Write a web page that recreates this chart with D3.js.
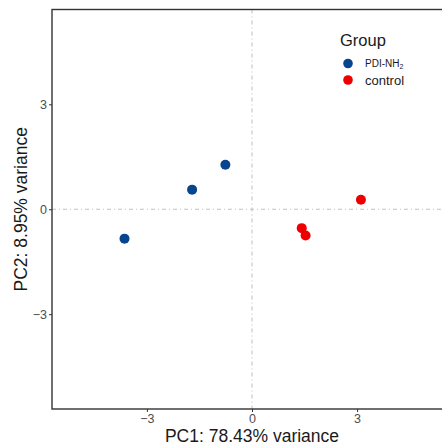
<!DOCTYPE html>
<html>
<head>
<meta charset="utf-8">
<script src="https://cdn.jsdelivr.net/npm/d3@7"></script>
<style>
  html, body { margin: 0; padding: 0; background: #fff; }
  svg text { font-family: "Liberation Sans", Arial, sans-serif; }
</style>
</head>
<body>
<svg id="chart" width="442" height="446"></svg>
<script>
// PCA scores per sample
const groups = ["PDI-NH2", "control"];
const groupColors = ["#08458f", "#ee0000"];
const pc1 = [-3.64, -1.71, -0.76, 1.42, 1.53, 3.11];
const pc2 = [-0.84, 0.56, 1.27, -0.54, -0.75, 0.27];
const sampleGroup = ["PDI-NH2", "PDI-NH2", "PDI-NH2", "control", "control", "control"];
const tickValues = [-3, 0, 3];
const xTitle = "PC1: 78.43% variance";
const yTitle = "PC2: 8.95% variance";

const svg = d3.select("#chart");
const margin = { left: 52, top: 9.5, bottom: 37 };
const W = 442, H = 446;
const panelW = 400; // panel extends beyond the right edge of the window
const x = d3.scaleLinear().domain([-5.71, 5.71]).range([margin.left, margin.left + panelW]);
const y = d3.scaleLinear().domain([-5.71, 5.71]).range([H - margin.bottom, margin.top]);
const color = d3.scaleOrdinal().domain(groups).range(groupColors);

// reference lines through the origin
const refStyle = g => g.attr("stroke", "#c4c4c4").attr("stroke-width", 1.1).attr("stroke-dasharray", "4,3,1,3");
svg.append("line").attr("x1", x(0)).attr("x2", x(0)).attr("y1", y.range()[1]).attr("y2", y.range()[0]).call(refStyle);
svg.append("line").attr("x1", x.range()[0]).attr("x2", x.range()[1]).attr("y1", y(0)).attr("y2", y(0)).call(refStyle);

// points
const data = pc1.map((v, i) => ({ pc1: v, pc2: pc2[i], group: sampleGroup[i] }));
svg.append("g").selectAll("circle").data(data).join("circle")
  .attr("cx", d => x(d.pc1)).attr("cy", d => y(d.pc2)).attr("r", 5)
  .attr("fill", d => color(d.group));

// axes
const fmt = d => d < 0 ? "\u2212" + Math.abs(d) : d;
const xAxis = svg.append("g").attr("transform", `translate(0,${y.range()[0]})`)
  .call(d3.axisBottom(x).tickValues(tickValues).tickSize(3).tickPadding(2).tickFormat(fmt));
const yAxis = svg.append("g").attr("transform", `translate(${x.range()[0]},0)`)
  .call(d3.axisLeft(y).tickValues(tickValues).tickSize(3).tickPadding(2).tickFormat(fmt));
[xAxis, yAxis].forEach(a => {
  a.select(".domain").remove();
  a.selectAll(".tick line").attr("stroke", "#333").attr("stroke-width", 1);
  a.selectAll(".tick text").attr("fill", "#4d4d4d").attr("font-size", 12.5);
});

// panel border
svg.append("rect")
  .attr("x", x.range()[0]).attr("y", y.range()[1])
  .attr("width", panelW).attr("height", y.range()[0] - y.range()[1])
  .attr("fill", "none").attr("stroke", "#333").attr("stroke-width", 1.4);

// axis titles
svg.append("text").attr("x", x(0)).attr("y", 442).attr("text-anchor", "middle")
  .attr("font-size", 17.5).attr("fill", "#1a1a1a").text(xTitle);
svg.append("text").attr("transform", `translate(27,${y(0)}) rotate(-90)`).attr("text-anchor", "middle")
  .attr("font-size", 17.5).attr("fill", "#1a1a1a").text(yTitle);

// legend
const lg = svg.append("g").attr("transform", "translate(340,0)");
lg.append("text").attr("x", 0).attr("y", 46).attr("font-size", 16.5).attr("fill", "#1a1a1a").text("Group");
const labelSize = [10, 13];
groups.forEach((g, i) => {
  const cy = 63.5 + i * 16.5;
  lg.append("circle").attr("cx", 8).attr("cy", cy).attr("r", 4.8).attr("fill", color(g));
  const t = lg.append("text").attr("x", 25).attr("y", cy + (i === 0 ? 3.5 : 4.5))
    .attr("font-size", labelSize[i]).attr("fill", "#1a1a1a");
  if (g === "PDI-NH2") {
    t.append("tspan").text("PDI-NH");
    t.append("tspan").attr("font-size", 7).attr("dy", 1.5).text("2");
  } else {
    t.text(g);
  }
});
</script>
</body>
</html>
